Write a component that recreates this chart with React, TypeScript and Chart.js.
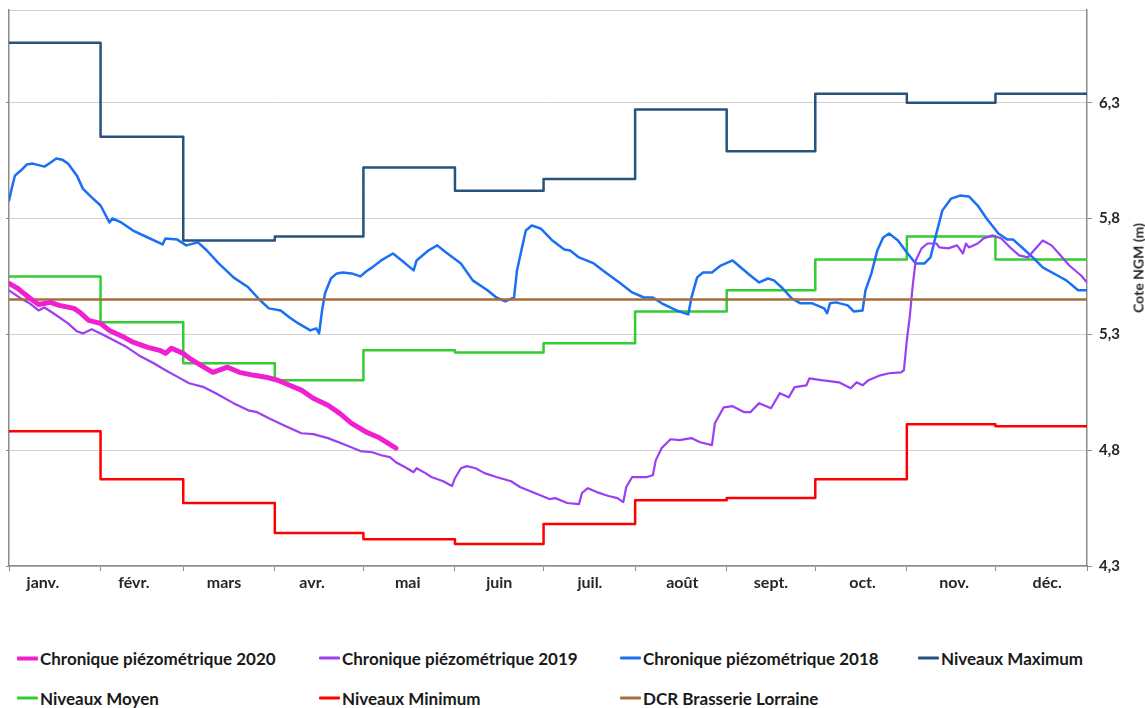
import React, { useEffect, useRef } from "react";
import { Chart, registerables } from "chart.js";

Chart.register(...registerables);

const monthNames = ["janv.", "févr.", "mars", "avr.", "mai", "juin", "juil.", "août", "sept.", "oct.", "nov.", "déc."];
const monthStarts = [0, 31, 59, 90, 120, 151, 181, 212, 243, 273, 304, 334, 365];
const monthLabelDays = [11.5, 42.3, 72.8, 102.6, 135, 166, 196.7, 228, 258, 289, 320, 351.5];
const yTicks = [4.3, 4.8, 5.3, 5.8, 6.3, 6.7];

const niveauxMaximum = [6.559, 6.153, 5.705, 5.722, 6.02, 5.92, 5.97, 6.27, 6.09, 6.339, 6.3, 6.339];
const niveauxMoyen = [5.55, 5.352, 5.175, 5.102, 5.231, 5.222, 5.261, 5.399, 5.49, 5.623, 5.722, 5.623];
const niveauxMinimum = [4.882, 4.675, 4.572, 4.442, 4.416, 4.395, 4.481, 4.584, 4.593, 4.675, 4.912, 4.903];
const dcrBrasserie = 5.45;

const days2020 = [0, 3, 5, 8, 10, 14, 17, 22, 24, 27, 31, 34, 39, 42, 47, 51, 53, 55, 59, 61, 65, 69, 74, 78, 83, 87, 91, 95, 99, 103, 108, 112, 116, 121, 125, 131];
const vals2020 = [5.52, 5.498, 5.477, 5.447, 5.429, 5.438, 5.425, 5.412, 5.395, 5.36, 5.347, 5.317, 5.287, 5.266, 5.244, 5.231, 5.218, 5.24, 5.218, 5.197, 5.166, 5.136, 5.158, 5.136, 5.123, 5.115, 5.102, 5.08, 5.059, 5.024, 4.994, 4.959, 4.916, 4.878, 4.856, 4.809];

const days2019 = [0, 4, 7, 10, 12, 15, 20, 23, 25, 28, 31, 35, 40, 44, 49, 53, 58, 61, 66, 70, 76, 81, 84, 88, 93, 99, 103, 108, 114, 119, 123, 126, 129, 131, 134, 137, 138, 141, 143, 147, 150, 151, 153, 155, 158, 161, 165, 170, 173, 178, 183, 185, 189, 193, 194, 196, 199, 203, 206, 208, 209, 211, 216, 218, 219, 221, 224, 227, 231, 234, 238, 239, 242, 245, 249, 251, 254, 258, 261, 264, 266, 270, 271, 275, 281, 285, 287, 289, 291, 295, 298, 302, 303, 304, 305, 306, 307, 309, 311, 314, 315, 318, 321, 323, 324, 325, 328, 330, 333, 336, 339, 342, 345, 347, 350, 353, 356, 359, 363, 365];
const vals2019 = [5.49, 5.455, 5.434, 5.403, 5.416, 5.391, 5.347, 5.313, 5.304, 5.322, 5.304, 5.278, 5.244, 5.209, 5.175, 5.145, 5.11, 5.089, 5.072, 5.046, 5.003, 4.972, 4.964, 4.938, 4.908, 4.873, 4.869, 4.852, 4.822, 4.796, 4.791, 4.778, 4.77, 4.748, 4.727, 4.705, 4.722, 4.701, 4.684, 4.666, 4.645, 4.679, 4.722, 4.731, 4.722, 4.701, 4.684, 4.666, 4.641, 4.615, 4.589, 4.593, 4.572, 4.567, 4.615, 4.636, 4.619, 4.602, 4.593, 4.576, 4.641, 4.684, 4.684, 4.692, 4.757, 4.809, 4.847, 4.843, 4.852, 4.834, 4.822, 4.916, 4.985, 4.99, 4.964, 4.964, 5.003, 4.981, 5.046, 5.028, 5.072, 5.08, 5.11, 5.102, 5.093, 5.067, 5.093, 5.08, 5.102, 5.123, 5.132, 5.136, 5.145, 5.274, 5.378, 5.511, 5.619, 5.671, 5.692, 5.692, 5.675, 5.671, 5.684, 5.649, 5.692, 5.675, 5.692, 5.714, 5.727, 5.714, 5.675, 5.641, 5.632, 5.662, 5.705, 5.684, 5.641, 5.597, 5.554, 5.524];

const days2018 = [0, 1, 2, 4, 6, 8, 12, 14, 16, 18, 20, 23, 25, 28, 31, 34, 35, 38, 42, 47, 52, 53, 57, 60, 64, 67, 71, 76, 81, 85, 88, 92, 95, 98, 102, 104, 105, 106, 107, 109, 111, 113, 116, 119, 121, 123, 126, 130, 133, 137, 138, 142, 145, 148, 153, 157, 162, 165, 168, 171, 172, 174, 175, 177, 180, 184, 188, 190, 193, 198, 202, 207, 211, 215, 218, 221, 226, 230, 231, 233, 235, 238, 241, 245, 247, 251, 254, 257, 259, 262, 265, 268, 272, 276, 277, 278, 280, 284, 286, 289, 290, 292, 294, 296, 298, 301, 304, 307, 310, 312, 314, 316, 319, 322, 325, 328, 331, 335, 338, 340, 343, 347, 350, 355, 358, 362, 365];
const vals2018 = [5.878, 5.934, 5.985, 6.007, 6.033, 6.037, 6.024, 6.041, 6.059, 6.054, 6.037, 5.985, 5.929, 5.891, 5.856, 5.783, 5.8, 5.783, 5.748, 5.718, 5.688, 5.714, 5.709, 5.684, 5.697, 5.662, 5.606, 5.546, 5.503, 5.447, 5.412, 5.403, 5.373, 5.347, 5.317, 5.326, 5.304, 5.403, 5.477, 5.541, 5.563, 5.567, 5.563, 5.55, 5.572, 5.589, 5.619, 5.649, 5.619, 5.576, 5.619, 5.662, 5.684, 5.653, 5.606, 5.533, 5.49, 5.459, 5.442, 5.459, 5.576, 5.692, 5.748, 5.77, 5.757, 5.705, 5.666, 5.662, 5.632, 5.606, 5.567, 5.52, 5.481, 5.459, 5.459, 5.434, 5.403, 5.386, 5.455, 5.546, 5.567, 5.567, 5.597, 5.619, 5.597, 5.554, 5.524, 5.541, 5.533, 5.498, 5.455, 5.434, 5.434, 5.412, 5.391, 5.434, 5.438, 5.425, 5.399, 5.403, 5.49, 5.563, 5.662, 5.718, 5.735, 5.705, 5.653, 5.606, 5.606, 5.632, 5.735, 5.834, 5.886, 5.899, 5.895, 5.856, 5.8, 5.735, 5.709, 5.709, 5.675, 5.628, 5.589, 5.554, 5.533, 5.49, 5.49];

const COLORS = {
  c2020: "#f020d2",
  c2019: "#9b3ff2",
  c2018: "#1a6ff5",
  max: "#27527e",
  moy: "#33cc33",
  min: "#ff0000",
  dcr: "#a86c38",
};

const legendItems = [
  { label: "Chronique piézométrique 2020", color: COLORS.c2020, thick: 4, left: 17, top: 658 },
  { label: "Chronique piézométrique 2019", color: COLORS.c2019, thick: 3, left: 319, top: 658 },
  { label: "Chronique piézométrique 2018", color: COLORS.c2018, thick: 3, left: 620, top: 658 },
  { label: "Niveaux Maximum", color: COLORS.max, thick: 3, left: 918, top: 658 },
  { label: "Niveaux Moyen", color: COLORS.moy, thick: 3, left: 17, top: 698 },
  { label: "Niveaux Minimum", color: COLORS.min, thick: 3, left: 319, top: 698 },
  { label: "DCR Brasserie Lorraine", color: COLORS.dcr, thick: 3, left: 620, top: 698 },
];

const FONT = "Lato, 'Open Sans', sans-serif";

export default function App() {
  const canvasRef = useRef<HTMLCanvasElement>(null);

  useEffect(() => {
    document.body.style.margin = "0";
    const canvas = canvasRef.current;
    if (!canvas) return;
    const pts = (xs: number[], ys: number[]) => xs.map((x, i) => ({ x, y: ys[i] }));
    const steps = (vals: number[]) => [
      ...vals.map((v, i) => ({ x: monthStarts[i], y: v })),
      { x: 365, y: vals[vals.length - 1] },
    ];
    const transparent = "rgba(0,0,0,0)";
    const axisGray = "#8c8c8c";
    const noPad = (s: any) => {
      s.paddingTop = 0;
      s.paddingBottom = 0;
      s.paddingLeft = 0;
      s.paddingRight = 0;
    };

    const chart = new Chart(canvas, {
      type: "line",
      data: {
        datasets: [
          { label: "Chronique piézométrique 2020", data: pts(days2020, vals2020), borderColor: COLORS.c2020, backgroundColor: COLORS.c2020, borderWidth: 5, order: 0 },
          { label: "DCR Brasserie Lorraine", data: [{ x: 0, y: dcrBrasserie }, { x: 365, y: dcrBrasserie }], borderColor: COLORS.dcr, backgroundColor: COLORS.dcr, borderWidth: 2.5, order: 1 },
          { label: "Chronique piézométrique 2019", data: pts(days2019, vals2019), borderColor: COLORS.c2019, backgroundColor: COLORS.c2019, borderWidth: 2.2, order: 2 },
          { label: "Chronique piézométrique 2018", data: pts(days2018, vals2018), borderColor: COLORS.c2018, backgroundColor: COLORS.c2018, borderWidth: 2.5, order: 3 },
          { label: "Niveaux Maximum", data: steps(niveauxMaximum), borderColor: COLORS.max, backgroundColor: COLORS.max, borderWidth: 2.5, stepped: "before", order: 4 },
          { label: "Niveaux Moyen", data: steps(niveauxMoyen), borderColor: COLORS.moy, backgroundColor: COLORS.moy, borderWidth: 2.5, stepped: "before", order: 5 },
          { label: "Niveaux Minimum", data: steps(niveauxMinimum), borderColor: COLORS.min, backgroundColor: COLORS.min, borderWidth: 2.5, stepped: "before", order: 6 },
        ],
      },
      options: {
        animation: false,
        responsive: false,
        events: [],
        layout: { padding: { left: 5, top: 10, right: 0, bottom: 0 } },
        elements: {
          point: { radius: 0 },
          line: { tension: 0, borderJoinStyle: "round", borderCapStyle: "round" },
        },
        plugins: {
          legend: { display: false },
          tooltip: { enabled: false },
        },
        scales: {
          x: {
            type: "linear",
            position: "bottom",
            min: 0,
            max: 365,
            afterBuildTicks: (s: any) => {
              s.ticks = [...monthStarts, ...monthLabelDays].sort((a, b) => a - b).map((v) => ({ value: v }));
            },
            afterFit: (s: any) => {
              s.height = 34;
              noPad(s);
            },
            ticks: {
              autoSkip: false,
              maxRotation: 0,
              minRotation: 0,
              padding: 2,
              color: "#262626",
              font: { family: FONT, weight: "bold", size: 16 },
              callback: (v: any) => {
                const i = monthLabelDays.indexOf(Number(v));
                return i >= 0 ? monthNames[i] : "";
              },
            },
            grid: {
              drawOnChartArea: false,
              drawTicks: true,
              tickLength: 5,
              lineWidth: 1,
              color: (ctx: any) => (ctx.tick && monthStarts.includes(ctx.tick.value) ? axisGray : transparent),
            },
            border: { display: true, color: axisGray, width: 1.5 },
          },
          y: {
            type: "linear",
            position: "right",
            min: 4.3,
            max: 6.7,
            afterBuildTicks: (s: any) => {
              s.ticks = yTicks.map((v) => ({ value: v }));
            },
            afterFit: (s: any) => {
              s.width = 58;
              noPad(s);
            },
            ticks: {
              padding: 7,
              color: "#262626",
              font: { family: FONT, weight: "bold", size: 15 },
              callback: (v: any) => (Number(v) === 6.7 ? "" : Number(v).toFixed(1).replace(".", ",")),
            },
            grid: {
              color: "#d0d0d0",
              lineWidth: 1,
              tickLength: 5,
              tickColor: (ctx: any) => (ctx.tick && ctx.tick.value === 6.7 ? transparent : axisGray),
            },
            border: { display: true, color: axisGray, width: 1.5 },
          },
          yL: {
            type: "linear",
            position: "left",
            min: 4.3,
            max: 6.7,
            afterBuildTicks: (s: any) => {
              s.ticks = yTicks.map((v) => ({ value: v }));
            },
            afterFit: (s: any) => {
              s.width = 4;
              noPad(s);
            },
            ticks: { display: false },
            grid: {
              drawOnChartArea: false,
              tickLength: 3,
              color: (ctx: any) => (ctx.tick && ctx.tick.value === 6.7 ? transparent : axisGray),
            },
            border: { display: true, color: axisGray, width: 1.5 },
          },
        },
      } as any,
    });
    return () => chart.destroy();
  }, []);

  return (
    <div style={{ position: "relative", width: 1145, height: 708, background: "#fff", fontFamily: FONT }}>
      <canvas ref={canvasRef} width={1145} height={600} style={{ display: "block", width: 1145, height: 600 }} />
      <div
        style={{
          position: "absolute",
          left: 1138,
          top: 268,
          transform: "translate(-50%, -50%) rotate(-90deg)",
          whiteSpace: "nowrap",
          fontWeight: 700,
          fontSize: 14,
          color: "#262626",
        }}
      >
        Cote NGM (m)
      </div>
      {legendItems.map((it) => (
        <div
          key={it.label}
          style={{
            position: "absolute",
            left: it.left,
            top: it.top,
            transform: "translateY(-50%)",
            display: "flex",
            alignItems: "center",
            whiteSpace: "nowrap",
            fontWeight: 700,
            fontSize: 17,
            color: "#1a1a1a",
          }}
        >
          <span style={{ display: "inline-block", width: 21, height: it.thick, background: it.color, marginRight: 2, borderRadius: 1 }} />
          <span>{it.label}</span>
        </div>
      ))}
    </div>
  );
}
